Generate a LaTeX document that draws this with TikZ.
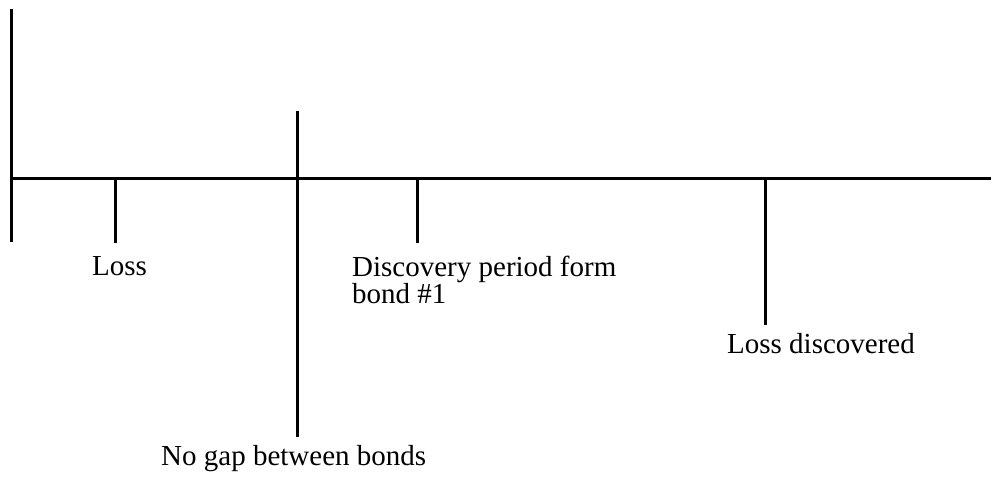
\documentclass[tikz,border=0pt]{standalone}
\usepackage{fontspec}
\setmainfont{Liberation Serif}
\begin{document}
\begin{tikzpicture}[x=1pt,y=-1pt,
  rule/.style={line width=3pt,black},
  lbl/.style={inner sep=0pt,anchor=base west,font=\fontsize{29}{27}\selectfont}]
\useasboundingbox (0,0) rectangle (991,480);
% axis and ticks
\coordinate (hl) at (11,178);
\coordinate (hr) at (991,178);
\coordinate (vtop) at (11,9);
\coordinate (vbot) at (11,242);
\coordinate (lossT) at (115,178);
\coordinate (lossB) at (115,243);
\coordinate (gapT) at (297,111);
\coordinate (gapB) at (297,437);
\coordinate (discT) at (417,178);
\coordinate (discB) at (417,243);
\coordinate (ldT) at (765,178);
\coordinate (ldB) at (765,325);
\draw[rule] (hl) -- (hr);
\draw[rule] (vtop) -- (vbot);
\draw[rule] (lossT) -- (lossB);
\draw[rule] (gapT) -- (gapB);
\draw[rule] (discT) -- (discB);
\draw[rule] (ldT) -- (ldB);
% labels
\node[lbl] (loss) at (92,275) {Loss};
\node[lbl] (disc1) at (352,276) {Discovery period form};
\node[lbl] (disc2) at (352,303) {bond \#1};
\node[lbl] (lossd) at (727,353) {Loss discovered};
\node[lbl] (nogap) at (161,465) {No gap between bonds};
\end{tikzpicture}
\end{document}
